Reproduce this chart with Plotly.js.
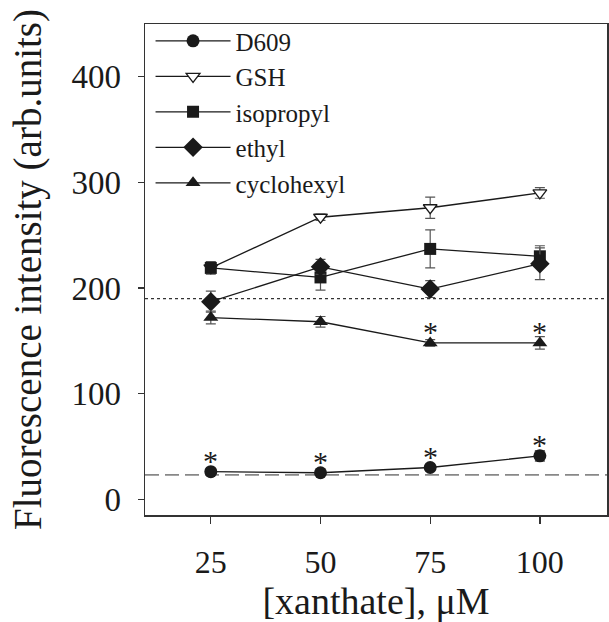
<!DOCTYPE html>
<html>
<head>
<meta charset="utf-8">
<script src="https://cdn.plot.ly/plotly-3.0.1.min.js"></script>
<style>html,body{margin:0;padding:0;background:#fff;}#chart{width:609px;height:622px;}</style>
</head>
<body>
<div id="chart"></div>
<script>
// ---- data ----
const xanthate = [25, 50, 75, 100];
const seriesNames = ["D609", "GSH", "isopropyl", "ethyl", "cyclohexyl"];
const d609 = [26, 25, 30, 41];
const d609Err = [3, 2, 3, 5];
const gsh = [219, 267, 276, 290];
const gshErr = [4, 3, 10, 5];
const isopropyl = [219, 210, 237, 230];
const isopropylErr = [6, 12, 18, 10];
const ethyl = [187, 220, 199, 223];
const ethylErr = [10, 7, 8, 15];
const cyclohexyl = [172, 168, 148, 148];
const cyclohexylErr = [6, 5, 3, 6];
// significance markers (true = asterisk shown)
const d609Star = [true, true, true, true];
const cyclohexylStar = [false, false, true, true];
// reference levels
const dottedLevel = 190;
const dashedLevel = 23;
const xTicks = [25, 50, 75, 100];
const yTicks = [0, 100, 200, 300, 400];

const FONT = "Liberation Serif, Times New Roman, serif";
const INK = "#1a1a1a";

const symbols = ["circle", "triangle-down", "square", "diamond", "triangle-up"];
const values = [d609, gsh, isopropyl, ethyl, cyclohexyl];
const errs = [d609Err, gshErr, isopropylErr, ethylErr, cyclohexylErr];
const sizes = [13, 12, 12, 15, 13];

const traces = values.map((v, i) => ({
  type: "scatter",
  mode: "lines+markers",
  name: seriesNames[i],
  x: xanthate,
  y: v,
  error_y: {type: "data", array: errs[i], visible: true, color: "#555", thickness: 1.2, width: 5},
  line: {color: INK, width: 1.3},
  marker: {
    symbol: symbols[i],
    size: sizes[i],
    color: i === 1 ? "#ffffff" : INK,
    line: {color: INK, width: i === 1 ? 1.3 : 0}
  },
  cliponaxis: false
}));

const annotations = [];
function addStars(vals, flags) {
  flags.forEach((f, i) => {
    if (f) annotations.push({
      x: xanthate[i], y: vals[i], xref: "x", yref: "y",
      text: "*", showarrow: false, yanchor: "middle", yshift: 11,
      font: {family: FONT, size: 30, color: INK}
    });
  });
}
addStars(d609, d609Star);
addStars(cyclohexyl, cyclohexylStar);

const layout = {
  width: 609, height: 622,
  margin: {l: 145, r: 2, t: 24, b: 107},
  paper_bgcolor: "#fff", plot_bgcolor: "#fff",
  font: {family: FONT, color: INK},
  showlegend: true,
  legend: {
    x: 0.012, y: 1.012, xanchor: "left", yanchor: "top",
    bgcolor: "rgba(0,0,0,0)", borderwidth: 0,
    font: {family: FONT, size: 25, color: INK},
    itemwidth: 75, tracegroupgap: 0
  },
  xaxis: {
    range: [10, 115.3], tickvals: xTicks, ticktext: xTicks.map(String),
    ticks: "outside", ticklen: 7, tickwidth: 1.3, tickcolor: "#333",
    showline: true, linecolor: "#333", linewidth: 1.5, mirror: true,
    showgrid: false, zeroline: false,
    tickfont: {family: FONT, size: 32, color: INK},
    ticklabelstandoff: 11,
    title: {text: "[xanthate], \u03bcM", font: {family: FONT, size: 38, color: INK}, standoff: 12}
  },
  yaxis: {
    range: [-15, 450], tickvals: yTicks, ticktext: yTicks.map(String),
    ticks: "outside", ticklen: 6, tickwidth: 1.3, tickcolor: "#333",
    showline: true, linecolor: "#333", linewidth: 1.5, mirror: true,
    showgrid: false, zeroline: false,
    tickfont: {family: FONT, size: 33, color: INK},
    ticklabelstandoff: 10,
    title: {text: "Fluorescence intensity (arb.units)", font: {family: FONT, size: 39, color: INK}, standoff: 18}
  },
  shapes: [
    {type: "line", xref: "paper", yref: "y", x0: 0, x1: 1, y0: dottedLevel, y1: dottedLevel,
     line: {color: "#333", width: 1.2, dash: "dot"}, layer: "below"},
    {type: "line", xref: "paper", yref: "y", x0: 0, x1: 1, y0: dashedLevel, y1: dashedLevel,
     line: {color: "#888", width: 1.6, dash: "14px,6px"}, layer: "below"}
  ],
  annotations: annotations
};

Plotly.newPlot("chart", traces, layout, {displayModeBar: false, staticPlot: true});
</script>
</body>
</html>
